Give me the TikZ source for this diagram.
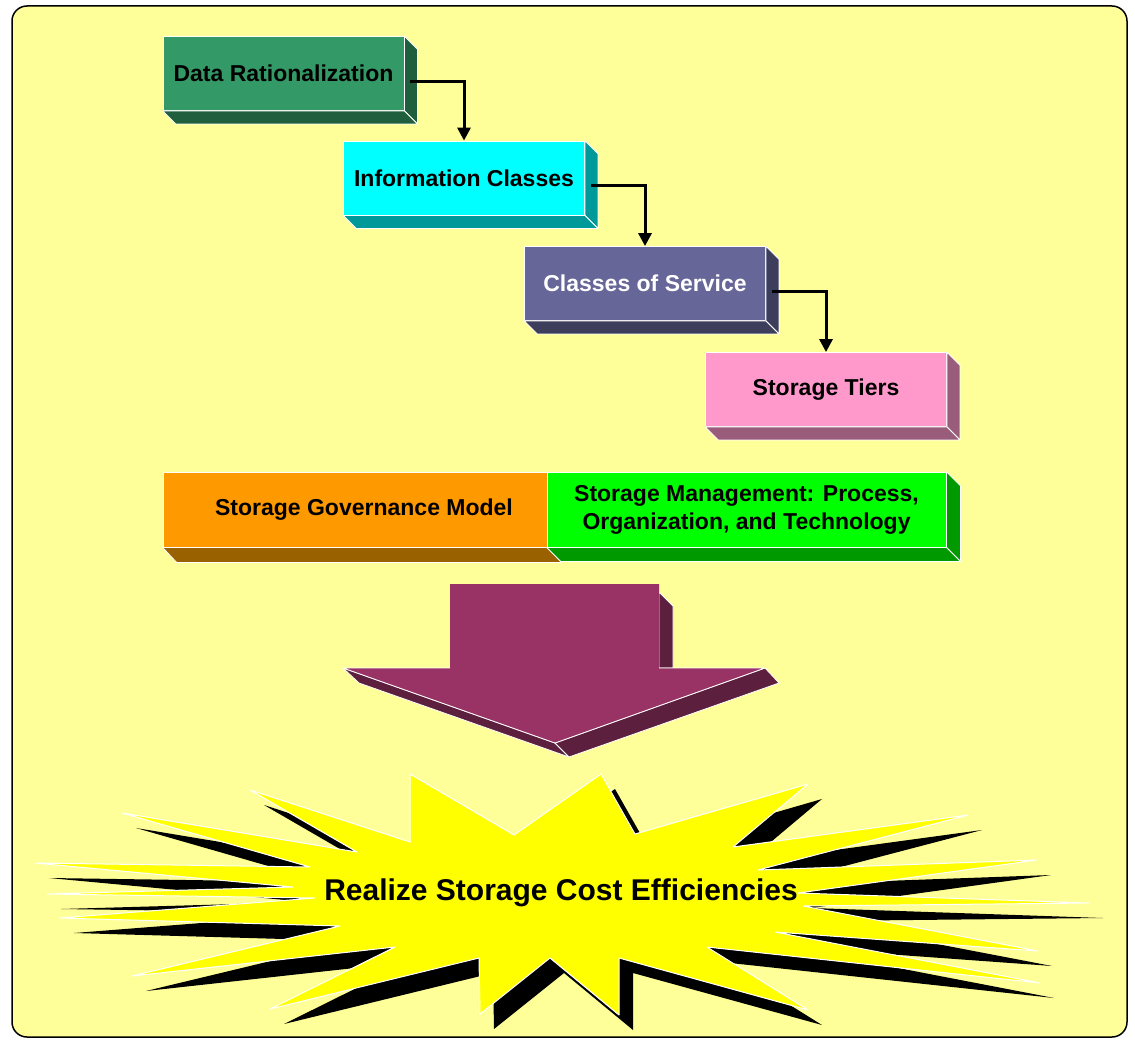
\documentclass[tikz,border=0pt]{standalone}
\usepackage{fontspec}
\setmainfont{Liberation Sans}
\usetikzlibrary{arrows.meta}
\definecolor{bgyel}{HTML}{FFFF99}
\definecolor{gA}{HTML}{339966}\definecolor{gAd}{HTML}{205F3D}
\definecolor{cB}{HTML}{00FFFF}\definecolor{cBd}{HTML}{009999}
\definecolor{pC}{HTML}{666699}\definecolor{pCd}{HTML}{3D3D5C}
\definecolor{kD}{HTML}{FF99CC}\definecolor{kDd}{HTML}{995C7A}
\definecolor{oE}{HTML}{FF9900}\definecolor{oEd}{HTML}{996100}
\definecolor{gF}{HTML}{00FF00}\definecolor{gFd}{HTML}{009900}
\definecolor{mG}{HTML}{993366}\definecolor{mGd}{HTML}{5C1F3D}
\definecolor{starY}{HTML}{FFFF00}
\newcommand\extrudebox[3]{%
  \fill[#2,draw=white,line width=0.8pt,line join=round]
    (#1.north east) -- ([shift={(#3,#3)}]#1.north east) -- ([shift={(#3,#3)}]#1.south east) -- (#1.south east) -- cycle;
  \fill[#2,draw=white,line width=0.8pt,line join=round]
    (#1.south west) -- (#1.south east) -- ([shift={(#3,#3)}]#1.south east) -- ([shift={(#3,#3)}]#1.south west) -- cycle;}
\tikzset{
  face/.style={rectangle,draw=white,line width=0.8pt,inner sep=0pt,minimum width=241pt,minimum height=74pt,
    font=\bfseries\fontsize{23}{28}\selectfont,align=center},
  conn/.style={line width=3pt,-{Triangle[length=13pt,width=13pt]}},
}
\begin{document}
\begin{tikzpicture}[x=1pt,y=-1pt]
\useasboundingbox (0,0) rectangle (1135,1041);
\fill[white] (0,0) rectangle (1135,1041);
\draw[line width=1.5pt,rounded corners=15pt,fill=bgyel] (12,6) rectangle (1127,1037);

% step boxes
\node[face,fill=gA,text=black] (b1) at (283.5,73.5) {Data Rationalization};
\extrudebox{b1}{gAd}{13}
\node[face,fill=cB,text=black] (b2) at (464,178) {Information Classes};
\extrudebox{b2}{cBd}{13}
\node[face,fill=pC,text=white] (b3) at (645,283.5) {Classes of Service};
\extrudebox{b3}{pCd}{13}
\node[face,fill=kD,text=black] (b4) at (826,389.5) {Storage Tiers};
\extrudebox{b4}{kDd}{13}

\draw[conn] ([shift={(6,7.5)}]b1.east) -| (b2.north);
\draw[conn] ([shift={(6,7.5)}]b2.east) -| (b3.north);
\draw[conn] ([shift={(6,7.5)}]b3.east) -| (b4.north);

% bar
\node[face,fill=oE,minimum width=384pt,minimum height=75pt] (gov) at (355,509.5) {\hspace*{18pt}Storage Governance Model};
\node[face,fill=gF,minimum width=399pt,minimum height=75pt] (mgmt) at (746.5,509.5) {Storage Management: Process,\\Organization, and Technology};
\fill[oEd,draw=white,line width=0.8pt,line join=round]
  (gov.south west) -- (gov.south east) -- ([shift={(14,15)}]gov.south east) -- ([shift={(14,15)}]gov.south west) -- cycle;
\extrudebox{mgmt}{gFd}{14}

% big arrow
\fill[mGd,draw=white,line width=0.8pt,line join=round] (659,592) -- (673,606) -- (673,668) -- (659,668) -- cycle;
\fill[mGd,draw=white,line width=0.8pt,line join=round] (343,668) -- (555,743) -- (569,757) -- (359,683) -- cycle;
\fill[mGd,draw=white,line width=0.8pt,line join=round] (555,743) -- (765,668) -- (779,683) -- (569,757) -- cycle;
\fill[mG] (450,584) -- (659,584) -- (659,668) -- (765,668) -- (555,743) -- (343,668) -- (450,668) -- cycle;
\draw[white,line width=0.8pt,line join=round] (659,668) -- (765,668) -- (555,743) -- (343,668) -- (450,668);

% starburst shadow
\fill[black,shift={(14,15)}] (410,774) -- (410,842) -- (250,790) -- (357,852) -- (122,813) -- (310,867) -- (35,863) -- (293,887) -- (47,894) -- (315,898) -- (60,918) -- (340,926) -- (132,976) -- (395,947) -- (270,1009) -- (479,958) -- (480,1014) -- (550,958) -- (619,1015) -- (619,958) -- (808,1010) -- (707,947) -- (1040,983) -- (775,932) -- (1038,951) -- (803,906) -- (1089,903) -- (798,893) -- (1037,860) -- (758,870) -- (968,815) -- (733,847) -- (808,784) -- (635,834) -- (601,774) -- (514,835) -- cycle;
% starburst
\filldraw[fill=starY,draw=white,line width=1pt,line join=miter,miter limit=2] (410,774) -- (410,842) -- (250,790) -- (357,852) -- (122,813) -- (310,867) -- (35,863) -- (293,887) -- (47,894) -- (315,898) -- (60,918) -- (340,926) -- (132,976) -- (395,947) -- (270,1009) -- (479,958) -- (480,1014) -- (550,958) -- (619,1015) -- (619,958) -- (808,1010) -- (707,947) -- (1040,983) -- (775,932) -- (1038,951) -- (803,906) -- (1089,903) -- (798,893) -- (1037,860) -- (758,870) -- (968,815) -- (733,847) -- (808,784) -- (635,834) -- (601,774) -- (514,835) -- cycle;
\node[font=\bfseries\fontsize{30}{34}\selectfont] (burst) at (561,893) {Realize Storage Cost Efficiencies};
\end{tikzpicture}
\end{document}
